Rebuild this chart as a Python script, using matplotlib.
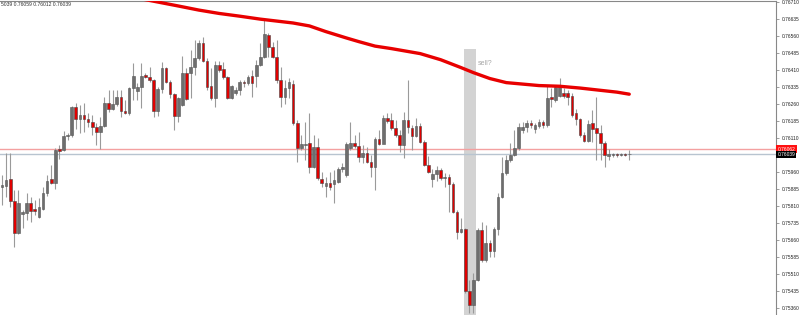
import matplotlib
matplotlib.use("Agg")
import matplotlib.pyplot as plt
import matplotlib.transforms as mtransforms
import numpy as np

opens = [0.75894, 0.75899, 0.75930, 0.75833, 0.75691, 0.75775, 0.75780, 0.75824, 0.75797, 0.75762,
         0.75797, 0.75868, 0.75930, 0.75912, 0.76062, 0.76057, 0.76119, 0.76124, 0.76247, 0.76194,
         0.76212, 0.76194, 0.76181, 0.76159, 0.76137, 0.76163, 0.76265, 0.76238, 0.76260, 0.76291,
         0.76229, 0.76221, 0.76331, 0.76318, 0.76335, 0.76388, 0.76379, 0.76366, 0.76229, 0.76327,
         0.76419, 0.76357, 0.76304, 0.76207, 0.76256, 0.76397, 0.76397, 0.76424, 0.76463, 0.76529,
         0.76450, 0.76340, 0.76287, 0.76432, 0.76415, 0.76379, 0.76287, 0.76309, 0.76322, 0.76357,
         0.76353, 0.76384, 0.76384, 0.76432, 0.76468, 0.76564, 0.76512, 0.76468, 0.76366, 0.76291,
         0.76331, 0.76349, 0.76177, 0.76066, 0.76080, 0.76088, 0.75983, 0.76071, 0.75930, 0.75899,
         0.75912, 0.75908, 0.75916, 0.75974, 0.75947, 0.76066, 0.76088, 0.76075, 0.76027, 0.76044,
         0.76005, 0.75983, 0.76106, 0.76084, 0.76199, 0.76190, 0.76155, 0.76124, 0.76080, 0.76190,
         0.76155, 0.76119, 0.76163, 0.76093, 0.75991, 0.75930, 0.75952, 0.75969, 0.75934, 0.75938,
         0.75908, 0.75784, 0.75696, 0.75709, 0.75436, 0.75374, 0.75483, 0.75705, 0.75572, 0.75647,
         0.75612, 0.75709, 0.75850, 0.75956, 0.76013, 0.76035, 0.76066, 0.76146, 0.76159, 0.76177,
         0.76150, 0.76163, 0.76181, 0.76168, 0.76291, 0.76278, 0.76296, 0.76309, 0.76309, 0.76296,
         0.76221, 0.76194, 0.76124, 0.76097, 0.76177, 0.76155, 0.76132, 0.76088, 0.76031, 0.76035,
         0.76040, 0.76035, 0.76040, 0.76039]
highs = [0.75947, 0.76044, 0.76044, 0.75881, 0.75881, 0.75793, 0.75868, 0.75850, 0.75837, 0.75846,
         0.75894, 0.75947, 0.75991, 0.76066, 0.76080, 0.76141, 0.76132, 0.76252, 0.76265, 0.76256,
         0.76265, 0.76221, 0.76212, 0.76177, 0.76203, 0.76291, 0.76322, 0.76322, 0.76322, 0.76322,
         0.76278, 0.76335, 0.76441, 0.76353, 0.76441, 0.76397, 0.76424, 0.76371, 0.76335, 0.76446,
         0.76424, 0.76366, 0.76309, 0.76291, 0.76472, 0.76419, 0.76499, 0.76543, 0.76543, 0.76556,
         0.76463, 0.76419, 0.76450, 0.76450, 0.76446, 0.76384, 0.76344, 0.76335, 0.76366, 0.76366,
         0.76388, 0.76410, 0.76454, 0.76529, 0.76631, 0.76573, 0.76534, 0.76543, 0.76424, 0.76366,
         0.76375, 0.76366, 0.76190, 0.76124, 0.76181, 0.76221, 0.76124, 0.76110, 0.75960, 0.75938,
         0.75960, 0.75969, 0.75983, 0.76000, 0.76093, 0.76181, 0.76124, 0.76137, 0.76080, 0.76071,
         0.76035, 0.76115, 0.76146, 0.76212, 0.76221, 0.76221, 0.76190, 0.76146, 0.76225, 0.76366,
         0.76168, 0.76199, 0.76177, 0.76102, 0.76031, 0.75974, 0.75987, 0.75978, 0.75956, 0.75952,
         0.75916, 0.75793, 0.75758, 0.75714, 0.75484, 0.75515, 0.75714, 0.75740, 0.75727, 0.75660,
         0.75718, 0.75868, 0.76027, 0.76035, 0.76088, 0.76146, 0.76177, 0.76181, 0.76190, 0.76190,
         0.76177, 0.76194, 0.76190, 0.76344, 0.76331, 0.76344, 0.76375, 0.76331, 0.76322, 0.76309,
         0.76238, 0.76199, 0.76137, 0.76190, 0.76234, 0.76291, 0.76168, 0.76097, 0.76062, 0.76044,
         0.76044, 0.76044, 0.76044, 0.76059]
lows = [0.75815, 0.75850, 0.75806, 0.75630, 0.75687, 0.75714, 0.75749, 0.75740, 0.75771, 0.75758,
        0.75793, 0.75855, 0.75908, 0.75886, 0.76018, 0.76053, 0.76102, 0.76115, 0.76150, 0.76132,
        0.76137, 0.76159, 0.76124, 0.76080, 0.76062, 0.76159, 0.76225, 0.76234, 0.76252, 0.76203,
        0.76216, 0.76212, 0.76278, 0.76278, 0.76243, 0.76375, 0.76357, 0.76203, 0.76207, 0.76309,
        0.76353, 0.76287, 0.76146, 0.76181, 0.76252, 0.76278, 0.76287, 0.76388, 0.76454, 0.76446,
        0.76322, 0.76278, 0.76247, 0.76401, 0.76371, 0.76282, 0.76282, 0.76300, 0.76300, 0.76335,
        0.76344, 0.76291, 0.76335, 0.76428, 0.76463, 0.76468, 0.76463, 0.76353, 0.76247, 0.76260,
        0.76287, 0.76168, 0.76005, 0.76057, 0.76013, 0.75956, 0.75978, 0.75925, 0.75894, 0.75850,
        0.75881, 0.75824, 0.75912, 0.75960, 0.75938, 0.76057, 0.76066, 0.76005, 0.76000, 0.76000,
        0.75938, 0.75881, 0.76080, 0.76102, 0.76177, 0.76146, 0.76115, 0.76049, 0.76022, 0.76132,
        0.76057, 0.76115, 0.76088, 0.75987, 0.75956, 0.75894, 0.75921, 0.75925, 0.75894, 0.75784,
        0.75780, 0.75665, 0.75691, 0.75427, 0.75339, 0.75339, 0.75480, 0.75564, 0.75564, 0.75586,
        0.75586, 0.75683, 0.75846, 0.75947, 0.76005, 0.76031, 0.76057, 0.76132, 0.76137, 0.76155,
        0.76132, 0.76155, 0.76155, 0.76159, 0.76247, 0.76269, 0.76291, 0.76287, 0.76256, 0.76203,
        0.76168, 0.76115, 0.76093, 0.76093, 0.76093, 0.76013, 0.76013, 0.75983, 0.76013, 0.76027,
        0.76027, 0.76031, 0.76031, 0.76012]
closes = [0.75903, 0.75925, 0.75833, 0.75691, 0.75824, 0.75784, 0.75824, 0.75789, 0.75789, 0.75806,
          0.75868, 0.75921, 0.75912, 0.76057, 0.76053, 0.76119, 0.76124, 0.76247, 0.76194, 0.76212,
          0.76194, 0.76181, 0.76159, 0.76137, 0.76163, 0.76265, 0.76238, 0.76260, 0.76291, 0.76229,
          0.76221, 0.76331, 0.76384, 0.76335, 0.76384, 0.76379, 0.76366, 0.76229, 0.76327, 0.76419,
          0.76357, 0.76304, 0.76207, 0.76287, 0.76397, 0.76282, 0.76424, 0.76463, 0.76529, 0.76450,
          0.76335, 0.76287, 0.76432, 0.76410, 0.76379, 0.76287, 0.76340, 0.76322, 0.76357, 0.76353,
          0.76379, 0.76353, 0.76432, 0.76468, 0.76569, 0.76512, 0.76468, 0.76366, 0.76291, 0.76331,
          0.76357, 0.76177, 0.76066, 0.76084, 0.76084, 0.75983, 0.76071, 0.75934, 0.75912, 0.75912,
          0.75894, 0.75925, 0.75974, 0.75983, 0.76084, 0.76088, 0.76075, 0.76027, 0.76044, 0.76005,
          0.75983, 0.76106, 0.76084, 0.76199, 0.76185, 0.76155, 0.76124, 0.76080, 0.76190, 0.76159,
          0.76119, 0.76163, 0.76093, 0.75991, 0.75960, 0.75952, 0.75969, 0.75934, 0.75938, 0.75908,
          0.75784, 0.75696, 0.75709, 0.75436, 0.75374, 0.75483, 0.75705, 0.75572, 0.75647, 0.75612,
          0.75709, 0.75850, 0.75956, 0.76013, 0.76035, 0.76066, 0.76159, 0.76159, 0.76177, 0.76168,
          0.76168, 0.76181, 0.76168, 0.76287, 0.76282, 0.76335, 0.76340, 0.76296, 0.76291, 0.76212,
          0.76194, 0.76124, 0.76097, 0.76172, 0.76150, 0.76132, 0.76088, 0.76035, 0.76040, 0.76040,
          0.76035, 0.76040, 0.76035, 0.76039]

# moving average (read at a few bars)
ma_bars = [33, 43, 48, 53, 58, 63, 71, 75, 79, 84, 87, 91, 95, 102, 107, 112, 115, 119, 123, 131, 136, 141, 150, 153]
ma_vals = [0.76728, 0.76693, 0.76675, 0.76660, 0.76648, 0.76635, 0.76618, 0.76605, 0.76580, 0.76552,
           0.76536, 0.76516, 0.76505, 0.76483, 0.76456, 0.76421, 0.76399, 0.76373, 0.76355, 0.76342,
           0.76339, 0.76331, 0.76313, 0.76304]

ask = 0.76062
bid = 0.76039
band_bars = (112.6, 115.5)
band_top = 0.76505
note_bar, note_price = 116.0, 0.76441
header = "5039 0.76059 0.76012 0.76039"

yticks = [0.76710, 0.76635, 0.76560, 0.76485, 0.76410, 0.76335, 0.76260, 0.76185, 0.76110,
          0.75960, 0.75885, 0.75810, 0.75735, 0.75660, 0.75585, 0.75510, 0.75435, 0.75360]

plt.rcParams["font.family"] = ["Liberation Sans", "DejaVu Sans"]

fig = plt.figure(figsize=(8, 3.15), dpi=100)
ax = fig.add_axes([0, 0, 776 / 800, 314 / 315])
ax.set_xlim(-0.49, 188.8)
ax.set_ylim(0.75330, 0.76715)

ymin = ax.get_ylim()[0]
ax.fill_between(band_bars, ymin, band_top, color="#d3d3d3", linewidth=0, zorder=1)
ax.text(note_bar, note_price, "sell?", fontsize=5, color="#a8a8a8", va="center", ha="left", zorder=2)

ax.axhline(ask, color="#f4a0a0", linewidth=1.0, zorder=2)
ax.axhline(bid, color="#b8c4d0", linewidth=1.0, zorder=2)

x = np.arange(len(opens))
o = np.array(opens)
h = np.array(highs)
l = np.array(lows)
c = np.array(closes)
up = c >= o
ax.vlines(x, l, h, color="#9a9a9a", linewidth=0.8, zorder=3)
bottom = np.minimum(o, c)
height = np.maximum(np.abs(c - o), 0.000015)
ax.bar(x[up], height[up], bottom=bottom[up], width=0.65, color="#6e6e6e",
       edgecolor="#555555", linewidth=0.4, zorder=4)
ax.bar(x[~up], height[~up], bottom=bottom[~up], width=0.65, color="#e00000",
       edgecolor="#444444", linewidth=0.4, zorder=4)

ax.plot(ma_bars, ma_vals, color="#e80000", linewidth=2.4, solid_capstyle="round",
        solid_joinstyle="round", zorder=5)

ax.yaxis.tick_right()
ax.set_yticks(yticks)
ax.set_yticklabels([f"{v:.5f}" for v in yticks], fontsize=3.5, color="#222222")
ax.tick_params(axis="y", length=2, width=0.5, color="#777777", pad=2)
ax.set_xticks([])
for s in ["left", "bottom"]:
    ax.spines[s].set_visible(False)
for s in ["top", "right"]:
    ax.spines[s].set_color("#888888")
    ax.spines[s].set_linewidth(0.8)

trans = mtransforms.blended_transform_factory(ax.transAxes, ax.transData)
ax.text(1.002, ask, f"{ask:.5f}", transform=trans, fontsize=3.5, color="white", va="center", ha="left",
        bbox=dict(facecolor="#ff1010", edgecolor="none", pad=0.8), clip_on=False)
ax.text(1.002, bid, f"{bid:.5f}", transform=trans, fontsize=3.5, color="white", va="center", ha="left",
        bbox=dict(facecolor="#000000", edgecolor="none", pad=0.8), clip_on=False)

fig.text(0.001, 0.985, header, fontsize=3.6, color="#333333", va="center", ha="left")

fig.savefig("out.png", dpi=100)
